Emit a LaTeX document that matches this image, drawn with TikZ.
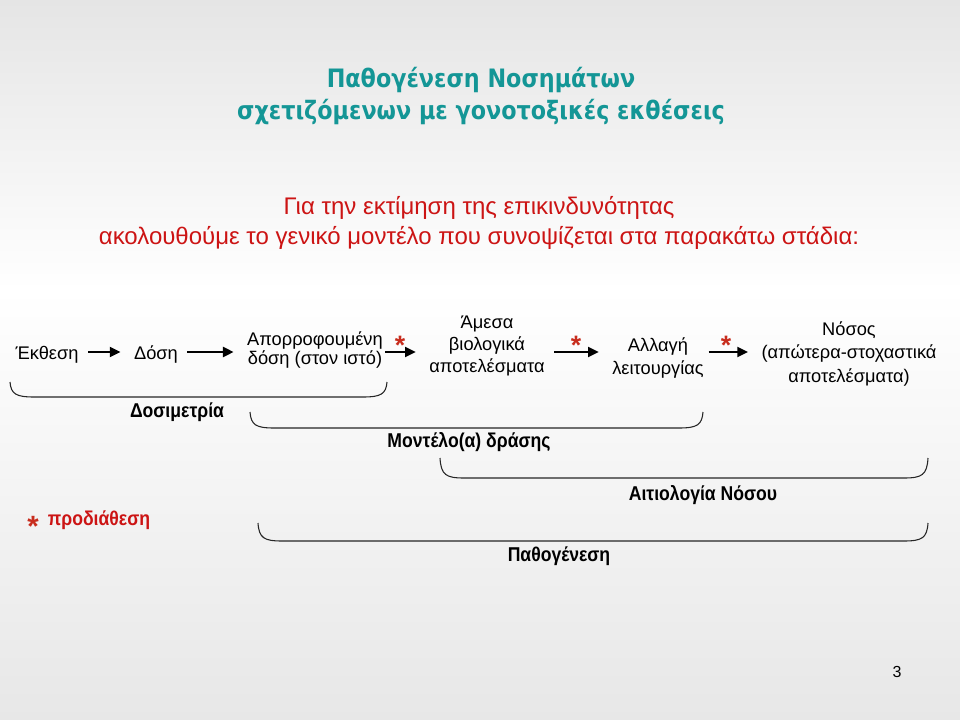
\documentclass[tikz,border=0pt]{standalone}
\usepackage{fontspec}
\setmainfont{Liberation Sans}
\newfontfamily\titlefont{DejaVu Sans}[FakeStretch=0.88]
\newfontfamily\narrowfont{Liberation Sans}[FakeStretch=0.88]
\usetikzlibrary{arrows.meta}
\definecolor{teal}{RGB}{20,150,150}
\definecolor{redtxt}{RGB}{204,20,20}
\definecolor{starred}{RGB}{200,45,30}
\definecolor{bgtop}{RGB}{229,229,229}
\definecolor{bgbot}{RGB}{231,231,231}
\newcommand\brc[4]{\draw[brace] (#1,#3) .. controls (#1+1,#4-3) and (#1+6,#4) .. (#1+24,#4) -- (#2-24,#4) .. controls (#2-6,#4) and (#2-1,#4-3) .. (#2,#3);}
\begin{document}
\begin{tikzpicture}[x=0.75pt,y=-0.75pt,
  title/.style={font=\titlefont\bfseries\fontsize{19}{23.3}\selectfont, text=teal, align=center, inner sep=0pt},
  intro/.style={font=\fontsize{18}{22.5}\selectfont, text=redtxt, align=center, inner sep=0pt},
  txt/.style={font=\fontsize{13.7}{17}\selectfont, align=center, inner sep=0pt},
  lbl/.style={font=\narrowfont\bfseries\fontsize{15}{17}\selectfont, inner sep=0pt},
  arr/.style={line width=1.5pt, -{Triangle[length=8pt,width=7.5pt]}, shorten <=7pt, shorten >=10pt},
  ast/.style={text=starred, font=\bfseries\fontsize{20}{20}\selectfont, inner sep=0pt},
  brace/.style={line width=0.8pt, black!85}]
\useasboundingbox (0,0) rectangle (960,720);
\fill[top color=bgtop, bottom color=white] (0,0) rectangle (960,290);
\fill[top color=white, bottom color=bgbot] (0,290) rectangle (960,720);

\node[title] (ttl) at (481,96) {Παθογένεση Νοσημάτων\\σχετιζόμενων με γονοτοξικές εκθέσεις};
\node[intro] (intr) at (479,223) {Για την εκτίμηση της επικινδυνότητας\\ακολουθούμε το γενικό μοντέλο που συνοψίζεται στα παρακάτω στάδια:};

\coordinate (row) at (0,352);
\node[txt] (ekth) at (47,355) {Έκθεση};
\node[txt] (dosi) at (156,355) {Δόση};
\node[txt, font=\fontsize{13.7}{14.8}\selectfont] (apor) at (315,350) {Απορροφουμένη\\δόση (στον ιστό)};
\node[txt, font=\fontsize{13.7}{16.5}\selectfont] (amesa) at (487,346) {Άμεσα\\βιολογικά\\αποτελέσματα};
\node[txt] (allagi) at (658,358) {Αλλαγή\\λειτουργίας};
\node[txt, font=\fontsize{13.7}{17.5}\selectfont] (nosos) at (849,354) {Νόσος\\(απώτερα-στοχαστικά\\αποτελέσματα)};

\draw[arr] (ekth.east |- row) -- (dosi.west |- row);
\draw[arr] (dosi.east |- row) -- (apor.west |- row);
\draw[arr, shorten <=1.5pt] (apor.east |- row) -- (amesa.west |- row);
\draw[arr] (amesa.east |- row) -- (allagi.west |- row);
\draw[arr, shorten <=3.5pt] (allagi.east |- row) -- (nosos.west |- row);

\node[ast] (s1) at (400,345) {*};
\node[ast] (s2) at (576,345) {*};
\node[ast] (s3) at (726,345) {*};

\brc{10}{387}{382}{397}
\brc{250}{703}{412}{428}
\brc{440}{928}{458}{478}
\brc{258}{928}{523}{541}

\node[lbl] (dosim) at (177,412) {Δοσιμετρία};
\node[lbl] (montelo) at (469,442) {Μοντέλο(α) δράσης};
\node[lbl] (aitiol) at (703,495) {Αιτιολογία Νόσου};
\node[lbl] (pathog) at (559,556) {Παθογένεση};
\node[ast, font=\bfseries\fontsize{22}{22}\selectfont] (s4) at (33,526) {*};
\node[lbl, text=redtxt] (prod) at (99,520) {προδιάθεση};
\node[font=\fontsize{12}{14}\selectfont, inner sep=0pt] (page) at (897,672) {3};
\end{tikzpicture}
\end{document}
